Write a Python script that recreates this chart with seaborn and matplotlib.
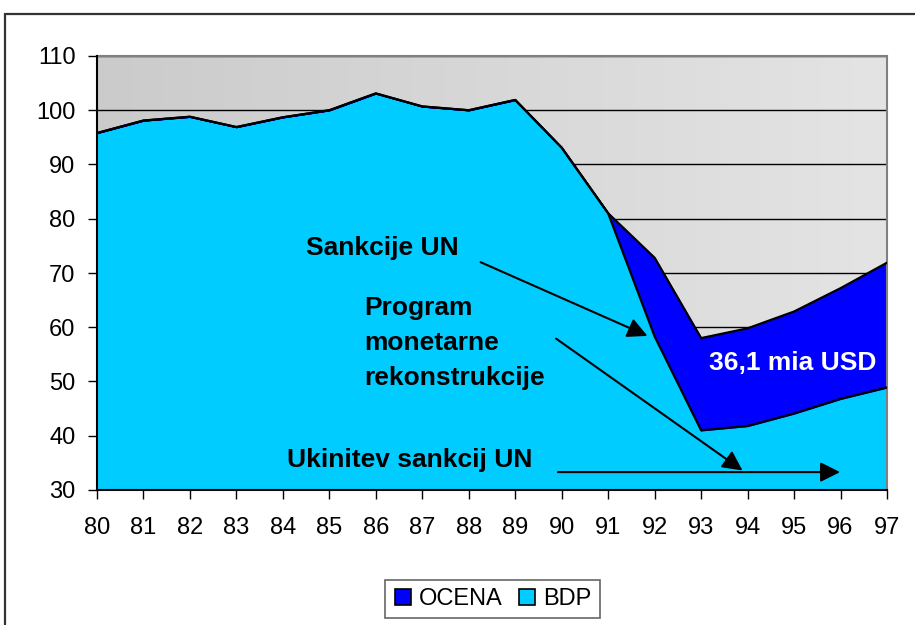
import numpy as np
import pandas as pd
import seaborn as sns
import matplotlib
matplotlib.use('Agg')
import matplotlib.pyplot as plt
from matplotlib.colors import LinearSegmentedColormap
from matplotlib.lines import Line2D
from matplotlib.patches import Rectangle

# Podatki (BDP v mia USD, ocena brez sankcij)
leta = [80, 81, 82, 83, 84, 85, 86, 87, 88, 89, 90, 91, 92, 93, 94, 95, 96, 97]
bdp = [95.8, 98.1, 98.8, 96.9, 98.7, 100, 103.1, 100.7, 100, 101.9, 93.1, 81, 58.3, 41, 41.8, 44.1, 46.8, 48.9]
ocena = [95.8, 98.1, 98.8, 96.9, 98.7, 100, 103.1, 100.7, 100, 101.9, 93.1, 81, 72.8, 58, 59.8, 62.9, 67.2, 71.9]
y_ticks = [30, 40, 50, 60, 70, 80, 90, 100, 110]

df = pd.DataFrame({'leto': leta, 'BDP': bdp, 'OCENA': ocena})

sns.set_style('white')
plt.rcParams['font.family'] = ['Liberation Sans', 'DejaVu Sans']
plt.rcParams['text.color'] = 'black'
plt.rcParams['xtick.color'] = 'black'
plt.rcParams['ytick.color'] = 'black'

modra = '#0000FF'
svetlo_modra = '#00CCFF'

fig = plt.figure(figsize=(9.15, 6.25), dpi=100)
ax = fig.add_axes([97 / 915, 1 - 490 / 625, 790 / 915, 434 / 625])

# sivo ozadje z gradientom
siva = LinearSegmentedColormap.from_list('siva', ['#cbcbcb', '#e4e4e4'])
ax.imshow(np.linspace(0, 1, 256).reshape(1, -1), extent=[80, 97, 30, 110],
          cmap=siva, aspect='auto', zorder=0)

ax.fill_between(df['leto'], 30, df['BDP'], color=svetlo_modra, zorder=2)
ax.fill_between(df['leto'], df['BDP'], df['OCENA'], color=modra, zorder=2)
sns.lineplot(data=df, x='leto', y='OCENA', color='black', lw=1.6, ax=ax, zorder=3)
sns.lineplot(data=df, x='leto', y='BDP', color='black', lw=1.6, ax=ax, zorder=3)

ax.set_xlim(80, 97)
ax.set_ylim(30, 110)
ax.set_xticks(leta)
ax.set_xticklabels([str(l) for l in leta])
ax.set_yticks(y_ticks)
ax.grid(axis='y', color='black', lw=1, zorder=1)
ax.set_axisbelow(True)
ax.set_xlabel('')
ax.set_ylabel('')
ax.tick_params(axis='y', length=6.5, width=1, pad=9, labelsize=17, left=True, colors='black')
ax.tick_params(axis='x', length=6.5, width=1, pad=13, labelsize=17, bottom=True, colors='black')

for s in ['top', 'right']:
    ax.spines[s].set_color('#808080')
    ax.spines[s].set_linewidth(1.5)
for s in ['left', 'bottom']:
    ax.spines[s].set_color('black')
    ax.spines[s].set_linewidth(1.5)
    ax.spines[s].set_zorder(4)

# puščice in besedila
puscica = dict(arrowstyle='-|>', color='black', lw=1.5, mutation_scale=30)
ax.annotate('', xy=(91.9, 58.2), xytext=(88.2, 72.2), arrowprops=puscica, zorder=5)
ax.annotate('', xy=(93.94, 33.3), xytext=(89.83, 58.2), arrowprops=puscica, zorder=5)
ax.annotate('', xy=(96.05, 33.3), xytext=(89.86, 33.3), arrowprops=puscica, zorder=5)

ax.text(84.5, 74.6, 'Sankcije UN', fontsize=19, fontweight='bold', ha='left', va='center', zorder=5)
ax.text(85.75, 57.1, 'Program\nmonetarne\nrekonstrukcije', fontsize=19, fontweight='bold',
        ha='left', va='center', linespacing=1.6, zorder=5)
ax.text(84.09, 35.5, 'Ukinitev sankcij UN', fontsize=19, fontweight='bold', ha='left', va='center', zorder=5)
ax.text(93.17, 53.4, '36,1 mia USD', fontsize=19, fontweight='bold', color='white',
        ha='left', va='center', zorder=5)

# legenda
rocaji = [Line2D([], [], marker='s', ls='none', markersize=12, markerfacecolor=modra, markeredgecolor='black', markeredgewidth=1.2),
          Line2D([], [], marker='s', ls='none', markersize=12, markerfacecolor=svetlo_modra, markeredgecolor='black', markeredgewidth=1.2)]
leg = fig.legend(rocaji, ['OCENA', 'BDP'], loc='center', bbox_to_anchor=(0.538, 0.0416), ncol=2,
                 fontsize=17, frameon=True, fancybox=False, handlelength=0.8, handletextpad=0.3,
                 columnspacing=0.6, borderpad=0.35)
leg.get_frame().set_edgecolor('#404040')
leg.get_frame().set_linewidth(1.2)

# okvir slike
fig.patches.append(Rectangle((5 / 915, -0.1), 1.2, 0.9776 + 0.1, transform=fig.transFigure,
                             fill=False, edgecolor='#333333', lw=1.6))

fig.savefig('out.png', dpi=100)
